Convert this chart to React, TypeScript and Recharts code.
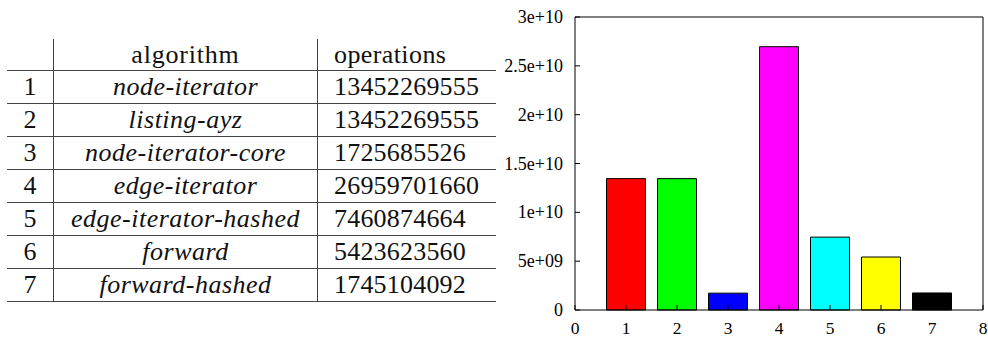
import { BarChart, Bar, XAxis, YAxis, Cell } from "recharts";

const ids = [1, 2, 3, 4, 5, 6, 7];
const algorithms = [
  "node-iterator",
  "listing-ayz",
  "node-iterator-core",
  "edge-iterator",
  "edge-iterator-hashed",
  "forward",
  "forward-hashed",
];
const operations = [
  13452269555, 13452269555, 1725685526, 26959701660, 7460874664, 5423623560,
  1745104092,
];
const barColors = ["#ff0000", "#00ff00", "#0000ff", "#ff00ff", "#00ffff", "#ffff00", "#000000"];
const xTicks = [0, 1, 2, 3, 4, 5, 6, 7, 8];
const yTicks = [0, 5e9, 1e10, 1.5e10, 2e10, 2.5e10, 3e10];
const yLabels = ["0", "5e+09", "1e+10", "1.5e+10", "2e+10", "2.5e+10", "3e+10"];

const data = ids.map((id, i) => ({ id, ops: operations[i] }));

const serif = "Liberation Serif, DejaVu Serif, serif";
const line = "1px solid #444";

function Table() {
  const cell = (w: number, extra: any = {}) => ({
    width: w,
    display: "flex",
    alignItems: "center",
    boxSizing: "border-box" as const,
    ...extra,
  });
  return (
    <div style={{ position: "absolute", left: 7, top: 39, width: 489, fontFamily: serif, fontSize: 26, color: "#111" }}>
      <div style={{ display: "flex", height: 32, borderBottom: line, boxSizing: "border-box" }}>
        <div style={cell(46)} />
        <div style={cell(264, { borderLeft: line, justifyContent: "center", letterSpacing: 0.8 })}>algorithm</div>
        <div style={cell(179, { borderLeft: line, paddingLeft: 16, letterSpacing: 0.4 })}>operations</div>
      </div>
      {ids.map((id, i) => (
        <div key={id} style={{ display: "flex", height: 33, borderBottom: line, boxSizing: "border-box" }}>
          <div style={cell(46, { justifyContent: "center" })}>{id}</div>
          <div style={cell(264, { borderLeft: line, justifyContent: "center", fontStyle: "italic", letterSpacing: 0.5 })}>
            {algorithms[i]}
          </div>
          <div style={cell(179, { borderLeft: line, paddingLeft: 16, letterSpacing: 0.2 })}>{operations[i]}</div>
        </div>
      ))}
    </div>
  );
}

const XTick = (props: any) => {
  const { x, y, payload } = props;
  return (
    <text x={x} y={y} textAnchor="middle" dominantBaseline="hanging" fontSize={17.5} fontFamily={serif} fill="#000">
      {payload.value}
    </text>
  );
};

const YTick = (props: any) => {
  const { x, y, payload } = props;
  const label = yLabels[yTicks.indexOf(payload.value)] ?? String(payload.value);
  return (
    <text x={x} y={y} textAnchor="end" dominantBaseline="central" fontSize={18} fontFamily={serif} fill="#000">
      {label}
    </text>
  );
};

export default function App() {
  return (
    <div style={{ position: "absolute", left: 0, top: 0, width: 988, height: 338, background: "#fff" }}>
      <Table />
      <div style={{ position: "absolute", left: 500, top: 0 }}>
        <BarChart width={488} height={338} data={data} margin={{ top: 17, right: 5, left: 0, bottom: 0 }}>
          <XAxis
            xAxisId="b"
            type="number"
            dataKey="id"
            domain={[0, 8]}
            ticks={xTicks}
            interval={0}
            height={28}
            stroke="#000"
            tickSize={-5}
            tickMargin={16.5}
            tick={<XTick />}
          />
          <XAxis
            xAxisId="t"
            orientation="top"
            mirror
            type="number"
            domain={[0, 8]}
            ticks={xTicks}
            interval={0}
            stroke="#000"
            tickSize={5}
            tick={false}
          />
          <YAxis
            yAxisId="l"
            domain={[0, 3e10]}
            ticks={yTicks}
            interval={0}
            width={75}
            stroke="#000"
            tickSize={-5}
            tickMargin={17}
            tick={<YTick />}
          />
          <YAxis
            yAxisId="r"
            orientation="right"
            mirror
            domain={[0, 3e10]}
            ticks={yTicks}
            interval={0}
            stroke="#000"
            tickSize={5}
            tick={false}
          />
          <Bar xAxisId="b" yAxisId="l" dataKey="ops" barSize={39} stroke="#000" strokeWidth={1} isAnimationActive={false}>
            {data.map((d, i) => (
              <Cell key={d.id} fill={barColors[i]} />
            ))}
          </Bar>
        </BarChart>
      </div>
    </div>
  );
}
